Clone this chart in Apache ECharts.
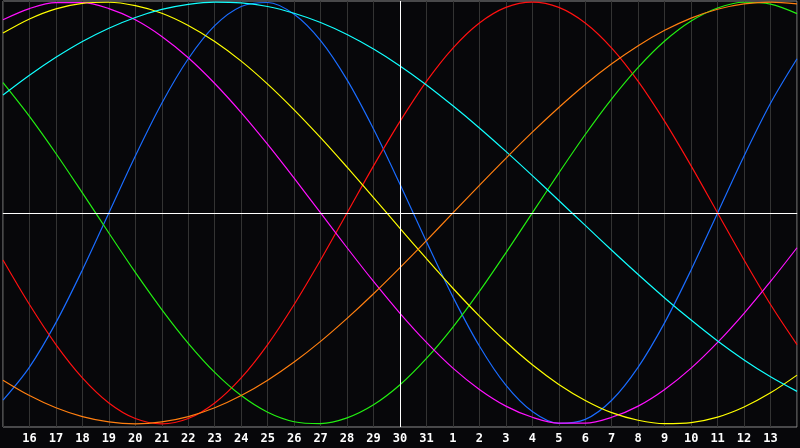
<!DOCTYPE html>
<html>
<head>
<meta charset="utf-8">
<script src="https://cdn.jsdelivr.net/npm/echarts@6/dist/echarts.min.js"></script>
<style>
html,body{margin:0;padding:0;background:#07070a;}
#c{width:800px;height:448px;}
</style>
</head>
<body>
<div id="c"></div>
<script>
const days = ['15','16','17','18','19','20','21','22','23','24','25','26','27','28','29','30','31',
              '1','2','3','4','5','6','7','8','9','10','11','12','13','14'];
const todayIndex = 15;
const physical23 = [-0.888,-0.731,-0.520,-0.270,0,0.270,0.520,0.731,0.888,0.979,0.998,0.942,0.817,0.631,0.398,0.136,-0.136,-0.398,-0.631,-0.817,-0.942,-0.998,-0.979,-0.888,-0.731,-0.520,-0.270,0,0.270,0.520,0.731];
const emotional28 = [-0.223,-0.434,-0.624,-0.782,-0.901,-0.975,-1,-0.975,-0.901,-0.782,-0.624,-0.434,-0.223,0,0.223,0.434,0.624,0.782,0.901,0.975,1,0.975,0.901,0.782,0.624,0.434,0.223,0,-0.223,-0.434,-0.624];
const intellectual33 = [0.618,0.458,0.282,0.095,-0.095,-0.282,-0.458,-0.618,-0.756,-0.866,-0.945,-0.990,-0.999,-0.972,-0.910,-0.815,-0.690,-0.541,-0.372,-0.189,0,0.189,0.372,0.541,0.690,0.815,0.910,0.972,0.999,0.990,0.945];
const intuitive38 = [0.916,0.969,0.997,0.997,0.969,0.916,0.837,0.736,0.614,0.476,0.325,0.165,0,-0.165,-0.325,-0.476,-0.614,-0.736,-0.837,-0.916,-0.969,-0.997,-0.997,-0.969,-0.916,-0.837,-0.736,-0.614,-0.476,-0.325,-0.165];
const aesthetic43 = [0.853,0.920,0.968,0.994,0.999,0.983,0.947,0.889,0.813,0.720,0.611,0.489,0.357,0.217,0.073,-0.073,-0.217,-0.357,-0.489,-0.611,-0.720,-0.813,-0.889,-0.947,-0.983,-0.999,-0.994,-0.968,-0.920,-0.853,-0.769];
const spiritual53 = [0.559,0.653,0.738,0.813,0.876,0.927,0.965,0.989,1.000,0.996,0.979,0.947,0.903,0.846,0.777,0.697,0.607,0.508,0.403,0.292,0.177,0.059,-0.059,-0.177,-0.292,-0.403,-0.508,-0.607,-0.697,-0.777,-0.846];
const awareness48 = [-0.793,-0.866,-0.924,-0.966,-0.991,-1,-0.991,-0.966,-0.924,-0.866,-0.793,-0.707,-0.609,-0.5,-0.383,-0.259,-0.131,0,0.131,0.259,0.383,0.5,0.609,0.707,0.793,0.866,0.924,0.966,0.991,1,0.991];

const seriesDefs = [
  {name:'physical', data:physical23, color:'#1a6cff'},
  {name:'emotional', data:emotional28, color:'#ff1010'},
  {name:'intellectual', data:intellectual33, color:'#22ee11'},
  {name:'intuitive', data:intuitive38, color:'#ff11ff'},
  {name:'aesthetic', data:aesthetic43, color:'#ffff00'},
  {name:'spiritual', data:spiritual53, color:'#11ffff'},
  {name:'awareness', data:awareness48, color:'#ff7f10'}
];

const chart = echarts.init(document.getElementById('c'), null, {renderer:'canvas'});
const series = [{
  type:'line', data:[], silent:true,
  markLine:{
    silent:true, symbol:'none', animation:false,
    label:{show:false},
    lineStyle:{color:'#ffffff', width:1, type:'solid'},
    data:[{yAxis:0},{xAxis:todayIndex}]
  }
}];
seriesDefs.forEach(s => series.push({
  name:s.name, type:'line', data:s.data, smooth:0.33, symbol:'none',
  lineStyle:{color:s.color, width:1.2}, itemStyle:{color:s.color}, silent:true
}));

chart.setOption({
  backgroundColor:'#07070a',
  animation:false,
  grid:{left:1, right:1, top:1, bottom:21, show:true, borderColor:'#8a8a8a', borderWidth:1},
  xAxis:{
    type:'category', data:days, boundaryGap:false,
    axisLine:{show:true, lineStyle:{color:'#9a9a9a'}},
    axisTick:{show:false},
    splitLine:{show:true, interval:0, lineStyle:{color:'#333333', width:1}},
    axisLabel:{
      interval:0, color:'#ffffff', fontWeight:'bold', fontSize:12,
      fontFamily:'DejaVu Sans Mono', margin:6,
      formatter:(v, i) => (i === 0 || i === days.length - 1) ? '' : v
    }
  },
  yAxis:{type:'value', min:-1.015, max:1.005, show:false, splitLine:{show:false}},
  series:series
});
</script>
</body>
</html>
